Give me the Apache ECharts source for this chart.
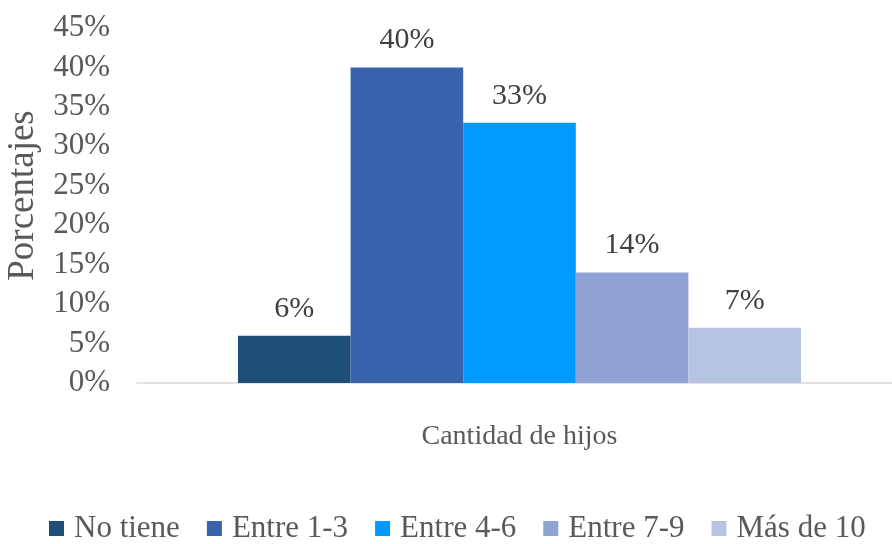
<!DOCTYPE html>
<html>
<head>
<meta charset="utf-8">
<script src="https://cdn.jsdelivr.net/npm/echarts@6/dist/echarts.min.js"></script>
<style>
  html, body { margin: 0; padding: 0; background: #fff; }
  #chart { width: 892px; height: 544px; }
</style>
</head>
<body>
<div id="chart"></div>
<script>
const categories = ['Cantidad de hijos'];
const seriesNames = ['No tiene', 'Entre 1-3', 'Entre 4-6', 'Entre 7-9', 'Más de 10'];
const seriesValues = [6, 40, 33, 14, 7];
const colors = ['#1F4E79', '#3A63AD', '#0099FF', '#8FA4D4', '#B7C3E2'];

const font = '"Liberation Serif", "Times New Roman", serif';

const series = seriesNames.map(function (name, i) {
    return {
        name: name,
        type: 'bar',
        data: [seriesValues[i]],
        barGap: '0%',
        barCategoryGap: '26.4%',
        itemStyle: { color: colors[i] },
        label: {
            show: true,
            position: 'top',
            distance: 12,
            formatter: '{c}%',
            fontFamily: font,
            fontSize: 30,
            color: '#404040'
        }
    };
});

const chart = echarts.init(document.getElementById('chart'));
chart.setOption({
    animation: false,
    color: colors,
    textStyle: { fontFamily: font },
    grid: { left: 137, width: 765, top: 28, bottom: 161, outerBoundsMode: 'none' },
    legend: {
        bottom: -5,
        left: 44,
        icon: 'rect',
        itemWidth: 15,
        itemHeight: 15,
        itemGap: 27,
        textStyle: { fontFamily: font, fontSize: 31, color: '#595959', padding: [0, 0, 0, 5] },
        data: seriesNames
    },
    xAxis: {
        type: 'category',
        data: categories,
        axisLine: { lineStyle: { color: '#D9D9D9', width: 1.5 } },
        axisTick: { show: false },
        axisLabel: { fontFamily: font, fontSize: 28, color: '#595959', margin: 40 }
    },
    yAxis: {
        type: 'value',
        min: 0,
        max: 45,
        interval: 5,
        name: 'Porcentajes',
        nameLocation: 'middle',
        nameGap: 92,
        nameTextStyle: { fontFamily: font, fontSize: 37, color: '#595959', padding: [0, 0, 0, 20] },
        axisLine: { show: false },
        axisTick: { show: false },
        splitLine: { show: false },
        axisLabel: { formatter: '{value}%', fontFamily: font, fontSize: 31, color: '#595959', margin: 27 }
    },
    series: series
});
</script>
</body>
</html>
